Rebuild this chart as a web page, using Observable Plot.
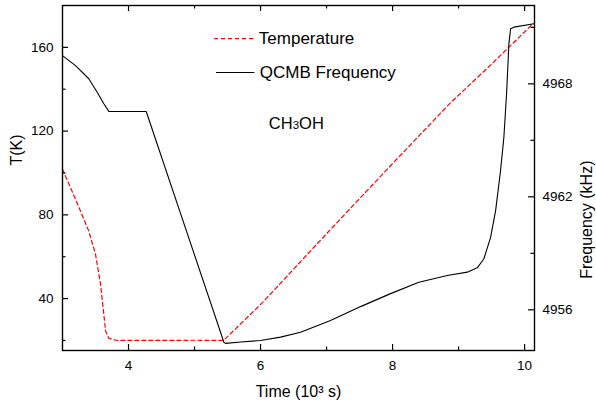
<!DOCTYPE html>
<html>
<head>
<meta charset="utf-8">
<script src="https://cdn.jsdelivr.net/npm/d3@7"></script>
<script src="https://cdn.jsdelivr.net/npm/@observablehq/plot@0.6"></script>
<style>
  html, body { margin: 0; padding: 0; background: #fff; }
  #chart { width: 596px; height: 409px; }
</style>
</head>
<body>
<div id="chart"></div>
<script>
// ---- Data ----
// Temperature (K) vs time (10^3 s)
const tempTime = [3.0, 3.197, 3.398, 3.50, 3.576, 3.626, 3.652, 3.702, 3.803, 3.9, 4.5, 5.0, 5.44, 6.03, 7.0, 8.0, 8.88, 9.5, 10.12];
const tempK    = [101.8, 87.5, 72.3, 61.2, 46.9, 32.5, 24.6, 21.1, 20.1, 20.0, 20.0, 20.1, 20.0, 38.1, 71.0, 104.5, 133.6, 152.0, 171.1];

// QCMB frequency (kHz) vs time (10^3 s)
const freqTime = [3.0, 3.197, 3.398, 3.526, 3.626, 3.702, 4.268, 5.394, 5.444, 5.47, 5.697, 6.0, 6.303, 6.606, 7.061, 7.515, 7.97, 8.398, 8.829, 9.132, 9.283, 9.383, 9.485, 9.561, 9.636, 9.686, 9.727, 9.762, 9.788, 9.838, 10.141];
const freqKHz  = [4969.50, 4968.97, 4968.27, 4967.55, 4966.94, 4966.54, 4966.53, 4954.81, 4954.28, 4954.22, 4954.29, 4954.37, 4954.55, 4954.81, 4955.43, 4956.17, 4956.86, 4957.46, 4957.82, 4958.00, 4958.23, 4958.71, 4959.85, 4961.27, 4963.40, 4965.16, 4967.47, 4970.12, 4970.92, 4971.01, 4971.19];

// Axis ticks
const xMajor = [4, 6, 8, 10];
const xMinor = [5, 7, 9];
const tMajor = [40, 80, 120, 160];
const tMinor = [20, 60, 100, 140];
const fMajor = [4956, 4962, 4968];
const fMinor = [4959, 4965, 4971];

// Domains
const xDomain = [3, 10.15];
const tDomain = [15.2, 180];
const fDomain = [4953.84, 4972.16];

// Legend / annotation
const legendLabels = ["Temperature", "QCMB Frequency"];
const legendLineX = [[5.303, 5.898], [5.333, 5.914]];
const legendTextX = [5.974, 5.989];
const legendY = [164.2, 148.0];
const noteText = "CH3OH";
const noteX = 6.126, noteY = 123.3;

// ---- Build ----
const W = 596, H = 409, MT = 5, MR = 62, MB = 59, ML = 62;
const FW = W - ML - MR, FH = H - MT - MB;
const f2t = d3.scaleLinear().domain(fDomain).range(tDomain);
const tempData = tempTime.map((t, i) => ({t, v: tempK[i]}));
const freqData = freqTime.map((t, i) => ({t, v: f2t(freqKHz[i])}));
const RED = "#ff0000";
const FS = 13.5;
const TK = {stroke: "#000", strokeWidth: 1.2};
const L = 6, l = 3.5; // inward tick lengths (major, minor)

const chart = Plot.plot({
  width: W, height: H,
  marginTop: MT, marginRight: MR, marginBottom: MB, marginLeft: ML,
  style: {fontFamily: "'Liberation Sans', Arial, sans-serif", fontSize: "14px", background: "#fff", color: "#000"},
  x: {domain: xDomain},
  y: {domain: tDomain},
  marks: [
    // curves
    Plot.line(tempData, {x: "t", y: "v", stroke: RED, strokeWidth: 1.2, strokeDasharray: "4,3"}),
    Plot.line(freqData, {x: "t", y: "v", stroke: "#000", strokeWidth: 1.1}),
    // tick labels
    Plot.axisX({ticks: xMajor, anchor: "bottom", tickSize: 0, tickPadding: 10, fontSize: FS, label: null, tickFormat: d => d}),
    Plot.axisY({ticks: tMajor, anchor: "left", tickSize: 0, tickPadding: 9, fontSize: FS, label: null, tickFormat: d => d}),
    Plot.axisY({ticks: fMajor.map(f2t), anchor: "right", tickSize: 0, tickPadding: 8, fontSize: FS, label: null,
      tickFormat: d => String(Math.round(f2t.invert(d)))}),
    // inward ticks on all four sides
    Plot.ruleX(xMajor, {x: d => d, insetTop: FH - L, ...TK}),
    Plot.ruleX(xMinor, {x: d => d, insetTop: FH - l, ...TK}),
    Plot.ruleX(xMajor, {x: d => d, insetBottom: FH - L, ...TK}),
    Plot.ruleX(xMinor, {x: d => d, insetBottom: FH - l, ...TK}),
    Plot.ruleY(tMajor, {y: d => d, insetRight: FW - L, ...TK}),
    Plot.ruleY(tMinor, {y: d => d, insetRight: FW - l, ...TK}),
    Plot.ruleY(fMajor.map(f2t), {y: d => d, insetLeft: FW - L, ...TK}),
    Plot.ruleY(fMinor.map(f2t), {y: d => d, insetLeft: FW - l, ...TK}),
    // frame
    Plot.frame({stroke: "#000", strokeWidth: 1.4}),
    // axis titles
    Plot.text(["T(K)"], {frameAnchor: "left", rotate: -90, dx: -45.7, dy: -12.5, fontSize: 16}),
    Plot.text(["Frequency (kHz)"], {frameAnchor: "right", rotate: -90, dx: 52.5, dy: -17.5, fontSize: 16}),
    Plot.text(["Time (10³ s)"], {frameAnchor: "bottom", dy: 46.8, fontSize: 16}),
    // legend
    Plot.ruleY([legendY[0]], {x1: legendLineX[0][0], x2: legendLineX[0][1], stroke: RED, strokeWidth: 1.2, strokeDasharray: "4,3"}),
    Plot.ruleY([legendY[1]], {x1: legendLineX[1][0], x2: legendLineX[1][1], stroke: "#000", strokeWidth: 1.1}),
    Plot.text(legendLabels, {x: (d, i) => legendTextX[i], y: (d, i) => legendY[i], text: d => d, textAnchor: "start", fontSize: 17}),
    Plot.text([noteText], {x: noteX, y: noteY, textAnchor: "start", fontSize: 16.5})
  ]
});

document.getElementById("chart").appendChild(chart);

// render the "3" in CH3OH as a smaller glyph
chart.querySelectorAll("text").forEach(el => {
  if (el.textContent === noteText) {
    el.textContent = "";
    const ns = "http://www.w3.org/2000/svg";
    const a = document.createElementNS(ns, "tspan"); a.textContent = "CH";
    const b = document.createElementNS(ns, "tspan"); b.textContent = "3"; b.setAttribute("font-size", "11.5");
    const c = document.createElementNS(ns, "tspan"); c.textContent = "OH";
    el.appendChild(a); el.appendChild(b); el.appendChild(c);
  }
});
</script>
</body>
</html>
